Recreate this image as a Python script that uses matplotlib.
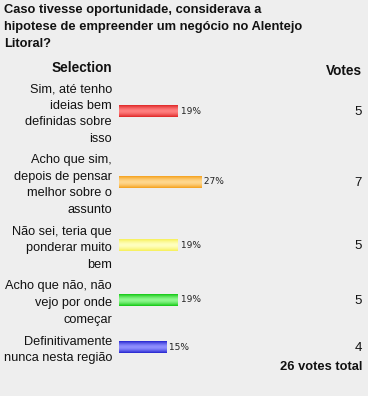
import numpy as np
import matplotlib
matplotlib.use("Agg")
import matplotlib.pyplot as plt
import matplotlib.transforms as mtransforms
from matplotlib.colors import to_rgb

# Poll data
title = "Caso tivesse oportunidade, considerava a\nhipotese de empreender um negócio no Alentejo\nLitoral?"
options = [
    "Sim, até tenho\nideias bem\ndefinidas sobre\nisso",
    "Acho que sim,\ndepois de pensar\nmelhor sobre o\nassunto",
    "Não sei, teria que\nponderar muito\nbem",
    "Acho que não, não\nvejo por onde\ncomeçar",
    "Definitivamente\nnunca nesta região",
]
votes = [5, 7, 5, 5, 4]
edge_colors = ["#e02828", "#f5a21e", "#f7f05a", "#14c814", "#2626d0"]
light_colors = ["#ff8080", "#ffd890", "#ffffc0", "#90f890", "#9090ff"]

total = sum(votes)
pct = [100 * v / total for v in votes]

W, H = 368, 396
bg = "#eeeeee"
font = "Liberation Sans"

fig = plt.figure(figsize=(W / 100, H / 100), dpi=100, facecolor=bg)
# bar axes: x in percent, y in pixel rows from top
ax = fig.add_axes([119 / W, 0, 306 / W, 1])
ax.set_facecolor(bg)
ax.axis("off")

# row layout from number of label lines
line_h = 16
row_pad = 7
centers = []
y = 111
for i, opt in enumerate(options):
    if i > 0:
        n_prev = options[i - 1].count("\n") + 1
        n_cur = opt.count("\n") + 1
        y += (n_prev + n_cur) / 2 * line_h + row_pad
    centers.append(y)

bar_h = 12
t = np.linspace(0, 1, 24)
w = np.clip(1 - np.abs(2 * t - 1) ** 1.6, 0, 1)
for c, p, ec, lc in zip(centers, pct, edge_colors, light_colors):
    e = np.array(to_rgb(ec))
    l = np.array(to_rgb(lc))
    grad = (e[None, :] * (1 - w[:, None]) + l[None, :] * w[:, None])[:, None, :]
    ax.imshow(grad, extent=(0, p, c + bar_h / 2, c - bar_h / 2), aspect="auto",
              interpolation="bilinear", zorder=2)
    ax.text(p, c, f" {p:.0f}%", ha="left", va="center", fontsize=6.5,
            family="DejaVu Sans", color="#222222")

ax.set_xlim(0, 100)
ax.set_ylim(H, 0)

lab_tr = mtransforms.blended_transform_factory(fig.transFigure, ax.transData)
for c, opt, v in zip(centers, options, votes):
    ax.text(112 / W, c + 3, opt, transform=lab_tr, ha="right", va="center",
            fontsize=9.2, family=font, linespacing=1.5, color="#111111")
    ax.text(362 / W, c + 1, str(v), transform=lab_tr, ha="right", va="center",
            fontsize=9.5, family=font, color="#111111")

# title and headers
fig.text(4 / W, 1 - 4.5 / H, title, ha="left", va="top", fontsize=9.3,
         fontweight="bold", family=font, linespacing=1.55, color="#111111")
fig.text(112 / W, 1 - 68.5 / H, "Selection", ha="right", va="center", fontsize=9.8,
         fontweight="bold", family=font, color="#111111")
fig.text(362 / W, 1 - 71 / H, "Votes", ha="right", va="center", fontsize=9.8,
         fontweight="bold", family=font, color="#111111")
fig.text(362 / W, 1 - 367 / H, f"{total} votes total", ha="right", va="center",
         fontsize=9.3, fontweight="bold", family=font, color="#111111")

fig.savefig("out.png", dpi=100, facecolor=bg)
